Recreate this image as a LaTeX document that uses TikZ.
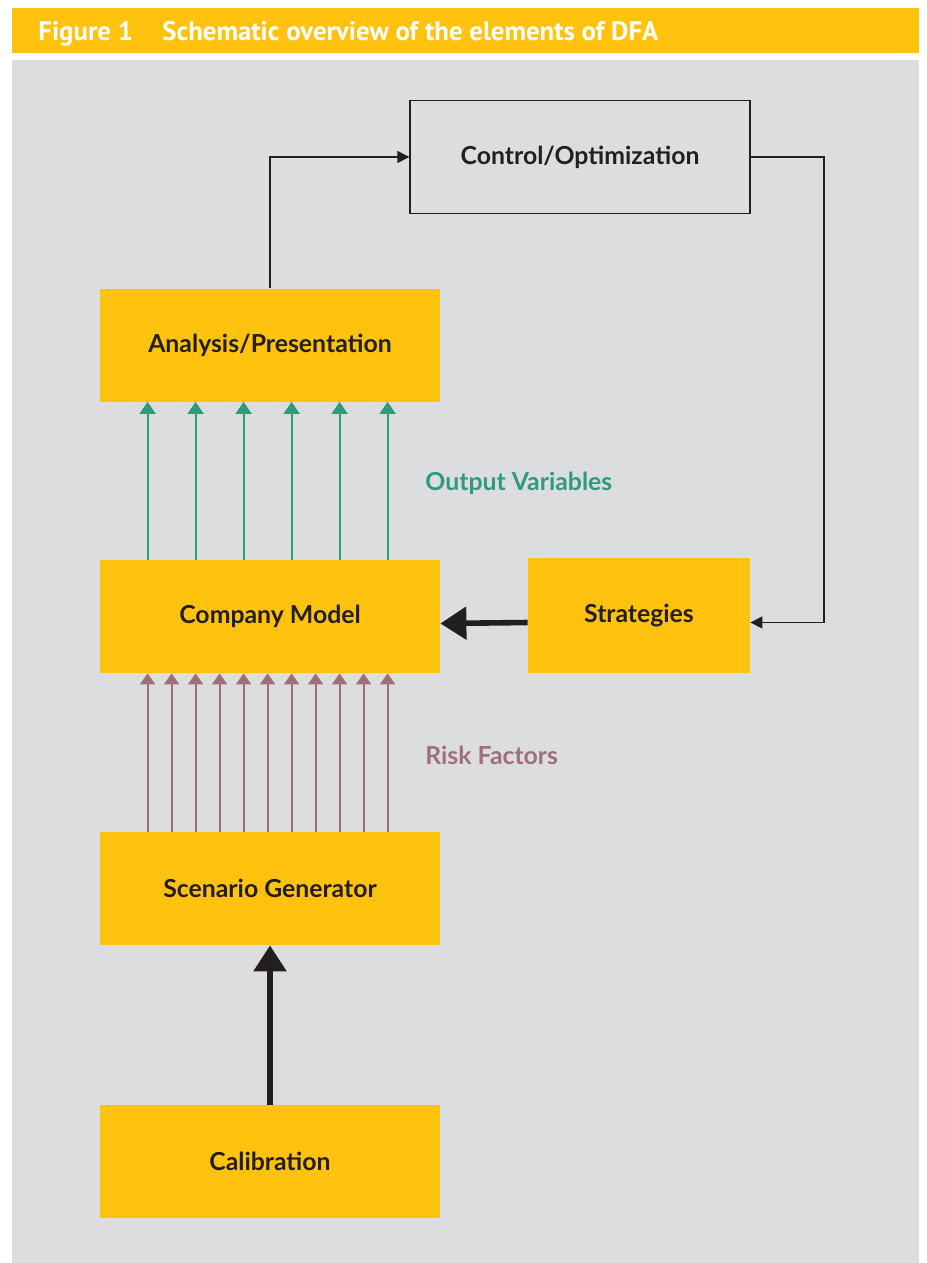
\documentclass[tikz,border=0pt]{standalone}
\usepackage{fontspec}
\setmainfont{Lato}
\newfontfamily\capfont{PT Sans}
\usepackage{xcolor}
\usepackage{tikz}
\usetikzlibrary{arrows.meta}
\definecolor{panel}{HTML}{DCDDDF}
\definecolor{gold}{HTML}{FFC20E}
\definecolor{ink}{HTML}{231F20}
\definecolor{outc}{HTML}{2E9A7E}
\definecolor{riskc}{HTML}{A0707A}
\tikzset{
  blk/.style={fill=gold, minimum width=170pt, minimum height=56.5pt, inner sep=0pt, text=ink, font=\bfseries\fontsize{12.4}{14}\selectfont},
  ctl/.style={blk, fill=panel, draw=ink, line width=0.7pt},
  link/.style={draw=ink, line width=0.75pt, -{Triangle[length=6pt,width=6pt]}},
  heavy/.style={draw=ink, line width=2.8pt, -{Triangle[length=13pt,width=16pt]}},
  outarr/.style={draw=outc, line width=1pt, -{Triangle[length=6pt,width=8pt]}},
  riskarr/.style={draw=riskc, line width=1pt, -{Triangle[length=5.5pt,width=7.5pt]}},
  lab/.style={anchor=west, inner sep=0pt, font=\bfseries\fontsize{12.4}{14}\selectfont}
}

\begin{document}
\begin{tikzpicture}[x=0.5pt,y=-0.5pt]
  \useasboundingbox (0,0) rectangle (926,1263);
  \fill[white] (0,0) rectangle (926,1263);
  \fill[gold] (12,8) rectangle (919,53);
  \fill[panel] (12,60) rectangle (919,1263);
  \node[anchor=base west, inner sep=0pt, text=white, font=\capfont\bfseries\fontsize{13.4}{15}\selectfont] (title) at (38,41)
    {Figure 1\hspace{1.1em}Schematic overview of the elements of DFA};

  \node[ctl] (ctrl) at (580,157) {Control/Optimization};
  \node[blk] (anal) at (270,345) {Analysis/Presentation};
  \node[blk] (comp) at (270,616.5) {Company Model};
  \node[blk, minimum width=111pt, minimum height=57.5pt] (strat) at (639,615.5) {Strategies};
  \node[blk] (scen) at (270,888.5) {Scenario Generator};
  \node[blk] (calib) at (270,1161.5) {Calibration};
  \coordinate (rt) at (824,157);
  \coordinate (sin) at ([yshift=-3.5pt]strat.east);
  \coordinate (sout) at ([yshift=-3.5pt]strat.west);
  \coordinate (cin) at ([yshift=-3.5pt]comp.east);

  \draw[link] (anal.north) |- (ctrl.west);
  \draw[link] (ctrl.east) -- (rt) |- (sin);
  \draw[heavy] (sout) -- (cin);
  \draw[heavy] (calib.north) -- (scen.south);

  \foreach \i in {0,...,5}
    \draw[outarr] ([xshift=24pt+24*\i pt]comp.north west) -- ([xshift=24pt+24*\i pt]anal.south west);
  \foreach \i in {0,...,10}
    \draw[riskarr] ([xshift=24pt+12*\i pt]scen.north west) -- ([xshift=24pt+12*\i pt]comp.south west);

  \node[lab, text=outc] (outlab) at (425,483) {Output Variables};
  \node[lab, text=riskc] (risklab) at (425,755) {Risk Factors};
\end{tikzpicture}
\end{document}
